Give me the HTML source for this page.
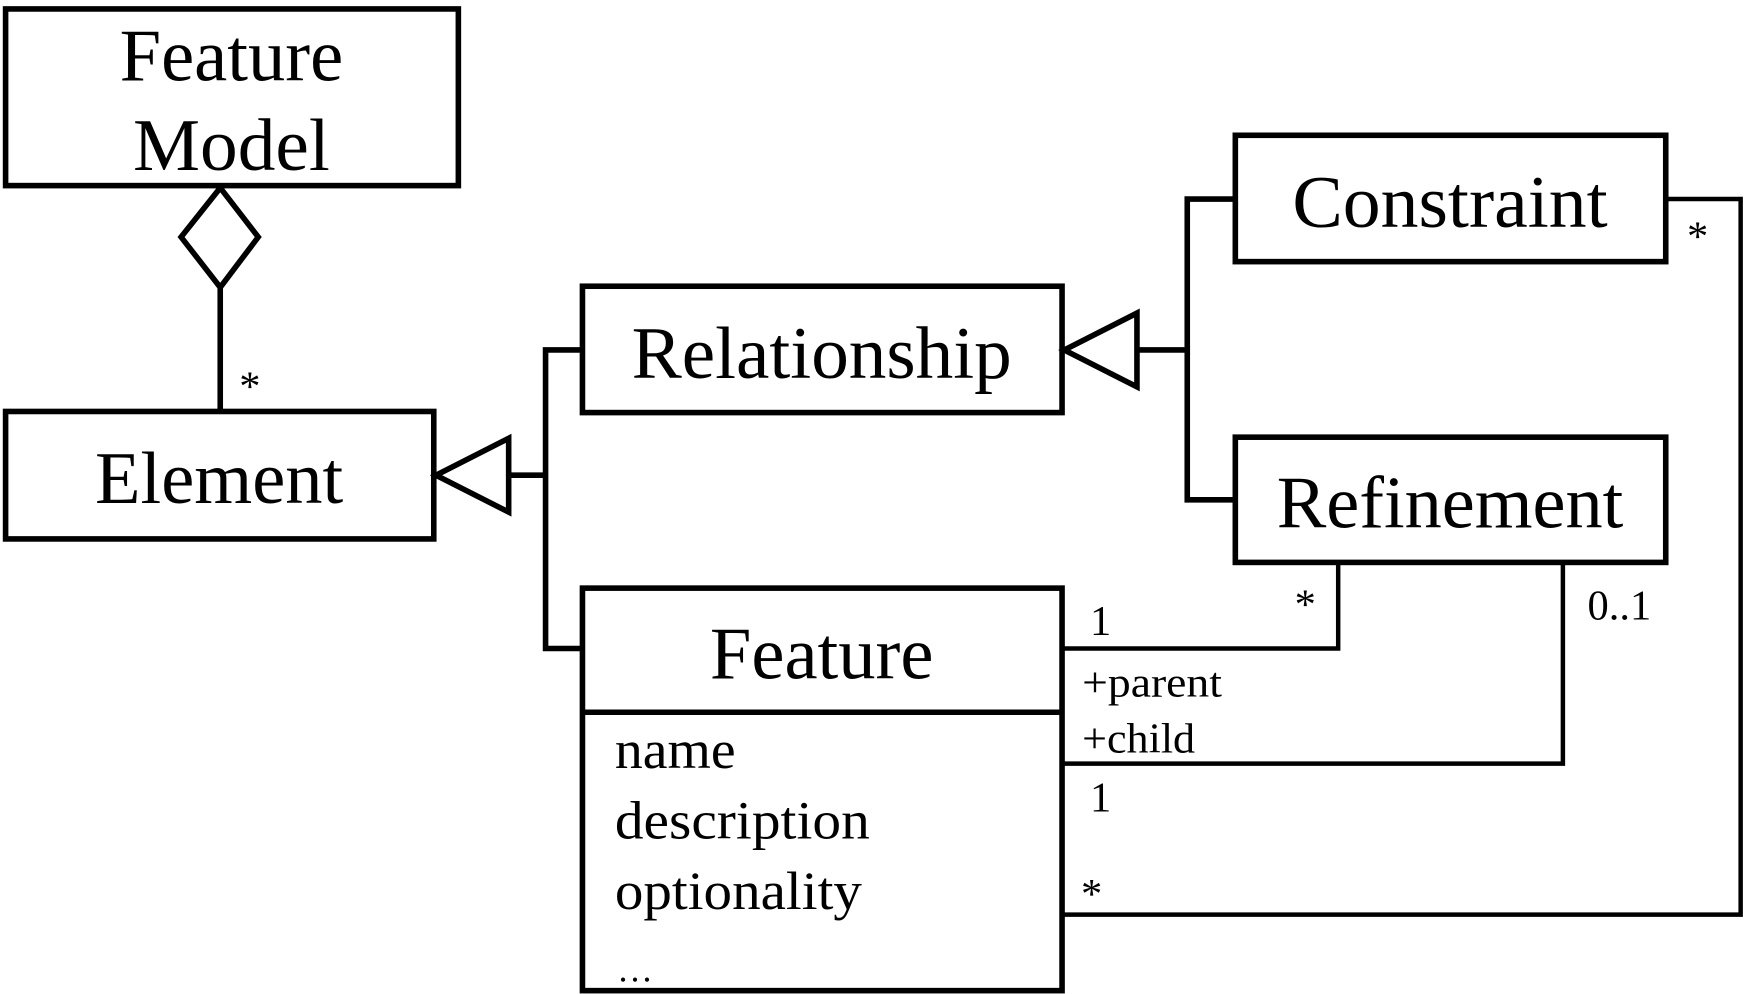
<!DOCTYPE html>
<html><head><style>html,body{margin:0;padding:0;background:#fff}svg{display:block}</style></head>
<body>
<svg width="1744" height="994" viewBox="0 0 1560 889" preserveAspectRatio="none" xmlns="http://www.w3.org/2000/svg">
<g fill="none" stroke="#000" stroke-width="5">
<rect x="5" y="8" width="405" height="158"/>
<polygon points="197,168 231,212 197,257 162,212"/>
<line x1="197" y1="257" x2="197" y2="368"/>
<rect x="5" y="368" width="383" height="114"/>
<polygon points="390,425 455,392 455,458"/>
<polyline points="455,425 488,425"/>
<polyline points="521,313 488,313 488,580 521,580"/>
<rect x="521" y="256" width="429" height="113"/>
<polygon points="952,313 1017,280 1017,346"/>
<polyline points="1017,313 1062,313"/>
<polyline points="1105,178 1062,178 1062,447 1105,447"/>
<rect x="1105" y="121" width="385" height="113"/>
<rect x="1105" y="391" width="385" height="112"/>
<rect x="521" y="526" width="429" height="360"/>
<line x1="521" y1="637" x2="950" y2="637"/>
</g>
<g fill="none" stroke="#000" stroke-width="4">
<polyline points="950,580 1197,580 1197,503"/>
<polyline points="950,683 1398,683 1398,503"/>
<polyline points="950,818 1557,818 1557,178 1490,178"/>
</g>
<g font-family="Liberation Serif, serif" fill="#000" text-anchor="middle" font-size="66">
<text x="207" y="72" textLength="200" lengthAdjust="spacingAndGlyphs">Feature</text>
<text x="207" y="152" textLength="176" lengthAdjust="spacingAndGlyphs">Model</text>
<text x="196" y="450" textLength="222" lengthAdjust="spacingAndGlyphs">Element</text>
<text x="735" y="338" textLength="340" lengthAdjust="spacingAndGlyphs">Relationship</text>
<text x="1297" y="203" textLength="282" lengthAdjust="spacingAndGlyphs">Constraint</text>
<text x="1297" y="472" textLength="310" lengthAdjust="spacingAndGlyphs">Refinement</text>
<text x="735" y="607" textLength="200" lengthAdjust="spacingAndGlyphs">Feature</text>
</g>
<g font-family="Liberation Serif, serif" fill="#000" font-size="48">
<text x="550" y="687" textLength="108" lengthAdjust="spacingAndGlyphs">name</text>
<text x="550" y="750" textLength="228" lengthAdjust="spacingAndGlyphs">description</text>
<text x="550" y="813" textLength="221" lengthAdjust="spacingAndGlyphs">optionality</text>
<text x="552" y="878" font-size="32">…</text>
</g>
<g font-family="Liberation Serif, serif" fill="#000" font-size="38">
<text x="214" y="358">*</text>
<text x="975" y="568">1</text>
<text x="1158" y="553">*</text>
<text x="968" y="623" textLength="125" lengthAdjust="spacingAndGlyphs">+parent</text>
<text x="968" y="673" textLength="101" lengthAdjust="spacingAndGlyphs">+child</text>
<text x="1420" y="554">0..1</text>
<text x="975" y="726">1</text>
<text x="1509" y="224">*</text>
<text x="967" y="812">*</text>
</g>
</svg>
</body></html>
